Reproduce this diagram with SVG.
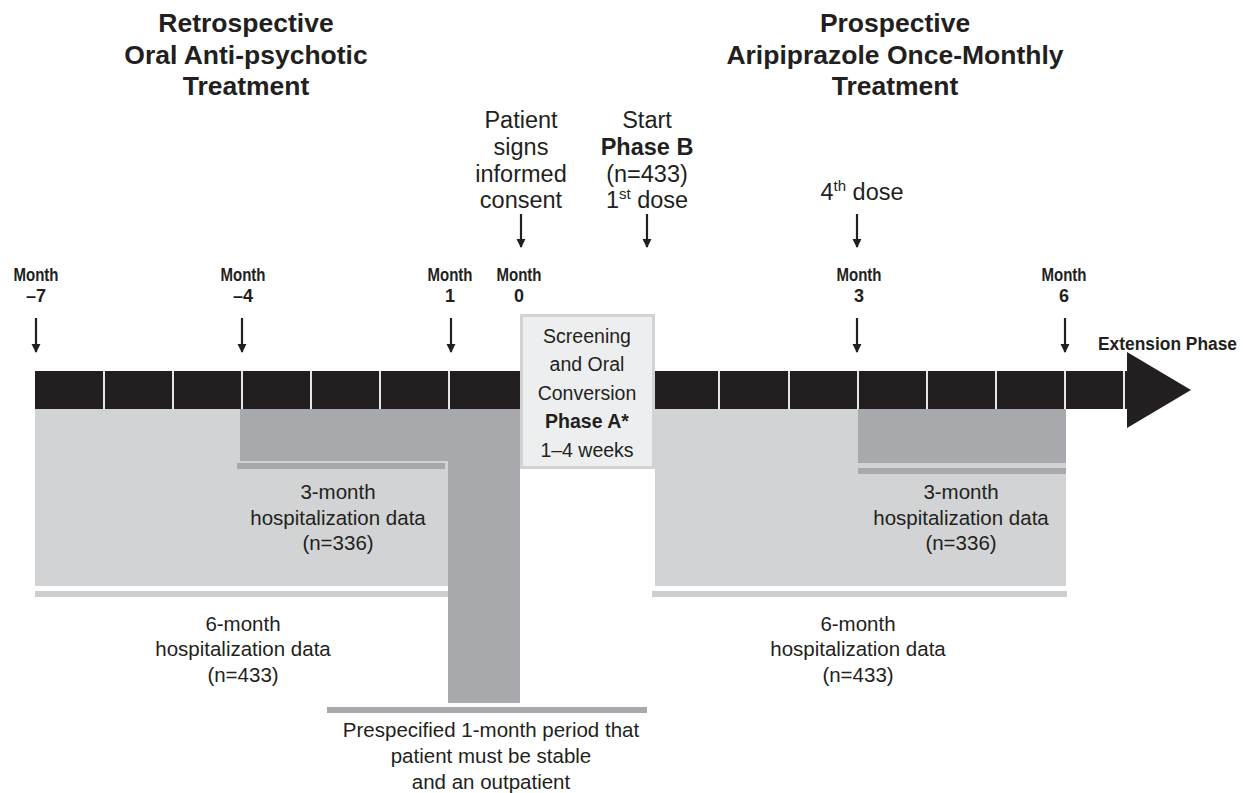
<svg xmlns="http://www.w3.org/2000/svg" width="1243" height="793" viewBox="0 0 1243 793">
<style>
text{font-family:"Liberation Sans",Arial,sans-serif;fill:#231f20;text-anchor:middle}
.title{font-size:26.5px;font-weight:bold}
.top{font-size:23.5px}
.mon{font-size:18px;font-weight:bold}
.body{font-size:20.5px}
.box{font-size:19.5px}
.note{font-size:20.5px}
.light{fill:#d1d3d4}
.dark{fill:#a7a9ac}
.lbar{fill:#cbcdcf}
.seg{stroke:#e6e6e6;stroke-width:2}
.arr{stroke:#231f20;stroke-width:2.2;fill:none}
</style>
<defs>
<marker id="ah" viewBox="0 0 10 10" refX="9" refY="5" markerWidth="4.2" markerHeight="4.2" orient="auto" markerUnits="strokeWidth">
<path d="M0,0 L10,5 L0,10 z" fill="#231f20"/>
</marker>
</defs>
<rect width="1243" height="793" fill="#fff"/>

<g id="titles">
<text class="title" x="246" y="32">Retrospective</text>
<text class="title" x="246" y="63.5">Oral Anti-psychotic</text>
<text class="title" x="246" y="95">Treatment</text>
<text class="title" x="895" y="32">Prospective</text>
<text class="title" x="895" y="63.5">Aripiprazole Once-Monthly</text>
<text class="title" x="895" y="95">Treatment</text>
</g>

<g id="regions">
<rect class="light" x="35" y="409" width="413" height="177"/>
<rect class="dark" x="240" y="409" width="208" height="52"/>
<rect class="dark" x="237" y="463" width="208" height="6"/>
<rect class="lbar" x="35" y="591" width="416" height="6"/>
<rect class="dark" x="448" y="409" width="72" height="294"/>
<rect class="dark" x="327" y="707" width="320" height="6"/>
<rect class="light" x="655" y="409" width="411" height="177"/>
<rect class="dark" x="858" y="409" width="208" height="54"/>
<rect class="dark" x="858" y="468" width="208" height="6"/>
<rect class="lbar" x="652" y="591" width="415" height="6"/>
</g>

<g id="timeline">
<rect x="35" y="371" width="487" height="38" fill="#231f20"/>
<rect x="653" y="371" width="475" height="38" fill="#231f20"/>
<path d="M1127,352 L1191,390 L1127,428 z" fill="#231f20"/>
<g class="seg">
<line x1="104" y1="371" x2="104" y2="409"/>
<line x1="173" y1="371" x2="173" y2="409"/>
<line x1="242" y1="371" x2="242" y2="409"/>
<line x1="311" y1="371" x2="311" y2="409"/>
<line x1="380" y1="371" x2="380" y2="409"/>
<line x1="449" y1="371" x2="449" y2="409"/>
<line x1="719" y1="371" x2="719" y2="409"/>
<line x1="789" y1="371" x2="789" y2="409"/>
<line x1="858" y1="371" x2="858" y2="409"/>
<line x1="927" y1="371" x2="927" y2="409"/>
<line x1="996" y1="371" x2="996" y2="409"/>
<line x1="1065" y1="371" x2="1065" y2="409"/>
<line x1="1124" y1="371" x2="1124" y2="409"/>
</g>
</g>

<g id="phaseA">
<rect x="521.5" y="315.5" width="132" height="152" fill="#edeeef" stroke="#d1d3d4" stroke-width="3"/>
<text class="box" x="587" y="343">Screening</text>
<text class="box" x="587" y="371">and Oral</text>
<text class="box" x="587" y="400">Conversion</text>
<text class="box" x="587" y="428" font-weight="bold">Phase A*</text>
<text class="box" x="587" y="457">1–4 weeks</text>
</g>

<g id="connectors">
<line class="arr" x1="36" y1="318" x2="36" y2="352" marker-end="url(#ah)"/>
<line class="arr" x1="242" y1="318" x2="242" y2="352" marker-end="url(#ah)"/>
<line class="arr" x1="451" y1="318" x2="451" y2="352" marker-end="url(#ah)"/>
<line class="arr" x1="857" y1="318" x2="857" y2="352" marker-end="url(#ah)"/>
<line class="arr" x1="1065" y1="318" x2="1065" y2="352" marker-end="url(#ah)"/>
<line class="arr" x1="521" y1="214" x2="521" y2="247" marker-end="url(#ah)"/>
<line class="arr" x1="647" y1="214" x2="647" y2="247" marker-end="url(#ah)"/>
<line class="arr" x1="857" y1="214" x2="857" y2="247" marker-end="url(#ah)"/>
</g>

<g id="events">
<text class="top" x="521" y="128">Patient</text>
<text class="top" x="521" y="155">signs</text>
<text class="top" x="521" y="182">informed</text>
<text class="top" x="521" y="208">consent</text>
<text class="top" x="647" y="128">Start</text>
<text class="top" x="647" y="155" font-weight="bold">Phase B</text>
<text class="top" x="647" y="182">(n=433)</text>
<text class="top" x="647" y="208">1<tspan font-size="15" dy="-9">st</tspan><tspan dy="9"> dose</tspan></text>
<text class="top" x="862" y="200">4<tspan font-size="15" dy="-9">th</tspan><tspan dy="9"> dose</tspan></text>
</g>

<g id="months">
<text class="mon" x="36" y="281" textLength="45" lengthAdjust="spacingAndGlyphs">Month</text>
<text class="mon" x="36" y="302">–7</text>
<text class="mon" x="243" y="281" textLength="45" lengthAdjust="spacingAndGlyphs">Month</text>
<text class="mon" x="243" y="302">–4</text>
<text class="mon" x="450" y="281" textLength="45" lengthAdjust="spacingAndGlyphs">Month</text>
<text class="mon" x="450" y="302">1</text>
<text class="mon" x="519" y="281" textLength="45" lengthAdjust="spacingAndGlyphs">Month</text>
<text class="mon" x="519" y="302">0</text>
<text class="mon" x="859" y="281" textLength="45" lengthAdjust="spacingAndGlyphs">Month</text>
<text class="mon" x="859" y="302">3</text>
<text class="mon" x="1064" y="281" textLength="45" lengthAdjust="spacingAndGlyphs">Month</text>
<text class="mon" x="1064" y="302">6</text>
<text class="mon" x="1098" y="350" font-size="21" style="text-anchor:start" textLength="139" lengthAdjust="spacingAndGlyphs">Extension Phase</text>
</g>

<g id="labels">
<text class="body" x="338" y="499">3-month</text>
<text class="body" x="338" y="525">hospitalization data</text>
<text class="body" x="338" y="550">(n=336)</text>
<text class="body" x="243" y="631">6-month</text>
<text class="body" x="243" y="656">hospitalization data</text>
<text class="body" x="243" y="682">(n=433)</text>
<text class="body" x="961" y="499">3-month</text>
<text class="body" x="961" y="525">hospitalization data</text>
<text class="body" x="961" y="550">(n=336)</text>
<text class="body" x="858" y="631">6-month</text>
<text class="body" x="858" y="656">hospitalization data</text>
<text class="body" x="858" y="682">(n=433)</text>
<text class="note" x="491" y="737">Prespecified 1-month period that</text>
<text class="note" x="491" y="763">patient must be stable</text>
<text class="note" x="491" y="789">and an outpatient</text>
</g>
</svg>
